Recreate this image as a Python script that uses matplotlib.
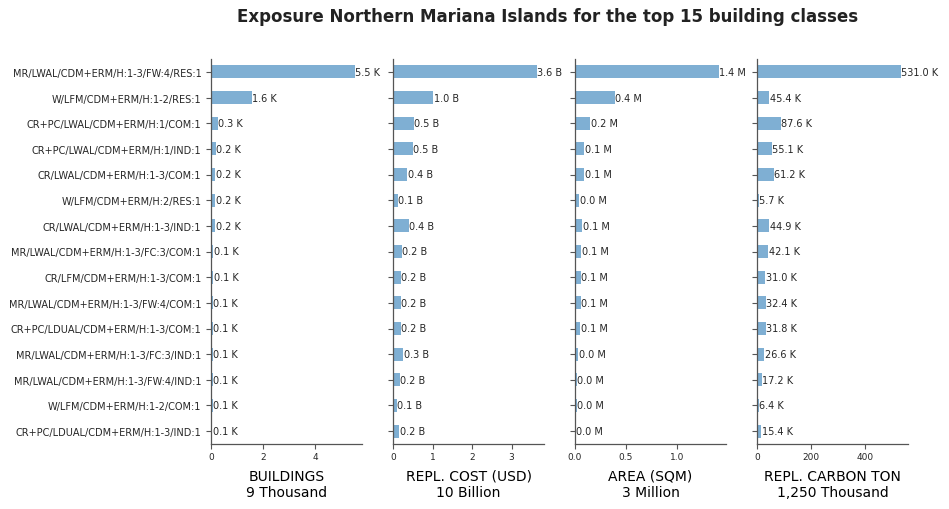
import matplotlib
matplotlib.use("Agg")
import matplotlib.pyplot as plt

classes = [
    "MR/LWAL/CDM+ERM/H:1-3/FW:4/RES:1",
    "W/LFM/CDM+ERM/H:1-2/RES:1",
    "CR+PC/LWAL/CDM+ERM/H:1/COM:1",
    "CR+PC/LWAL/CDM+ERM/H:1/IND:1",
    "CR/LWAL/CDM+ERM/H:1-3/COM:1",
    "W/LFM/CDM+ERM/H:2/RES:1",
    "CR/LWAL/CDM+ERM/H:1-3/IND:1",
    "MR/LWAL/CDM+ERM/H:1-3/FC:3/COM:1",
    "CR/LFM/CDM+ERM/H:1-3/COM:1",
    "MR/LWAL/CDM+ERM/H:1-3/FW:4/COM:1",
    "CR+PC/LDUAL/CDM+ERM/H:1-3/COM:1",
    "MR/LWAL/CDM+ERM/H:1-3/FC:3/IND:1",
    "MR/LWAL/CDM+ERM/H:1-3/FW:4/IND:1",
    "W/LFM/CDM+ERM/H:1-2/COM:1",
    "CR+PC/LDUAL/CDM+ERM/H:1-3/IND:1",
]

# thousands of buildings
buildings = [5.51, 1.56, 0.27, 0.19, 0.16, 0.16, 0.16, 0.09, 0.08, 0.07, 0.07, 0.06, 0.06, 0.06, 0.055]
# billion USD
repl_cost = [3.64, 1.02, 0.53, 0.50, 0.36, 0.12, 0.40, 0.22, 0.20, 0.20, 0.20, 0.26, 0.17, 0.09, 0.16]
# million sqm
area = [1.41, 0.39, 0.151, 0.092, 0.092, 0.043, 0.072, 0.062, 0.056, 0.056, 0.052, 0.033, 0.02, 0.02, 0.01]
# thousand tons
carbon = [531.0, 45.4, 87.6, 55.1, 61.2, 5.7, 44.9, 42.1, 31.0, 32.4, 31.8, 26.6, 17.2, 6.4, 15.4]

panels = [
    (buildings, "K", "BUILDINGS\n9 Thousand", [0, 2, 4], ["0", "2", "4"]),
    (repl_cost, "B", "REPL. COST (USD)\n10 Billion", [0, 1, 2, 3], ["0", "1", "2", "3"]),
    (area, "M", "AREA (SQM)\n3 Million", [0, 0.5, 1.0], ["0.0", "0.5", "1.0"]),
    (carbon, "K", "REPL. CARBON TON\n1,250 Thousand", [0, 200, 400], ["0", "200", "400"]),
]

title = "Exposure Northern Mariana Islands for the top 15 building classes"
bar_color = "#7fafd3"
spine_color = "#555555"
text_color = "#262626"

fig = plt.figure(figsize=(9.49, 5.10), dpi=100)

left0 = 211 / 949
width = 151 / 949
step = 182 / 949
bottom = 1 - 445 / 510
height = (445 - 60) / 510

ypos = list(range(len(classes)))

for i, (vals, unit, xlabel, ticks, ticklabels) in enumerate(panels):
    ax = fig.add_axes([left0 + i * step, bottom, width, height])
    bars = ax.barh(ypos, vals, height=0.5, color=bar_color)
    ax.bar_label(bars, labels=[f"{v:.1f} {unit}" for v in vals],
                 padding=0.3, fontsize=7, color=text_color)
    ax.set_ylim(len(classes) - 0.5, -0.5)
    ax.set_xlim(0, max(vals) * 1.05)
    ax.set_xticks(ticks)
    ax.set_xticklabels(ticklabels, fontsize=6.5, color=text_color)
    ax.set_yticks(ypos)
    if i == 0:
        ax.set_yticklabels(classes, fontsize=7, color=text_color)
    else:
        ax.set_yticklabels([])
    ax.set_xlabel(xlabel, fontsize=10, color="black", labelpad=6)
    for s in ["top", "right"]:
        ax.spines[s].set_visible(False)
    for s in ["left", "bottom"]:
        ax.spines[s].set_color(spine_color)
        ax.spines[s].set_linewidth(0.9)
    ax.tick_params(axis="both", length=3.5, width=0.8, color=spine_color, pad=2)
    ax.tick_params(axis="y", pad=3.5)

fig.text(548 / 949, 1 - 17 / 510, title, ha="center", va="center",
         fontsize=12, fontweight="bold", color="#222222")

fig.savefig("out.png", dpi=100)
